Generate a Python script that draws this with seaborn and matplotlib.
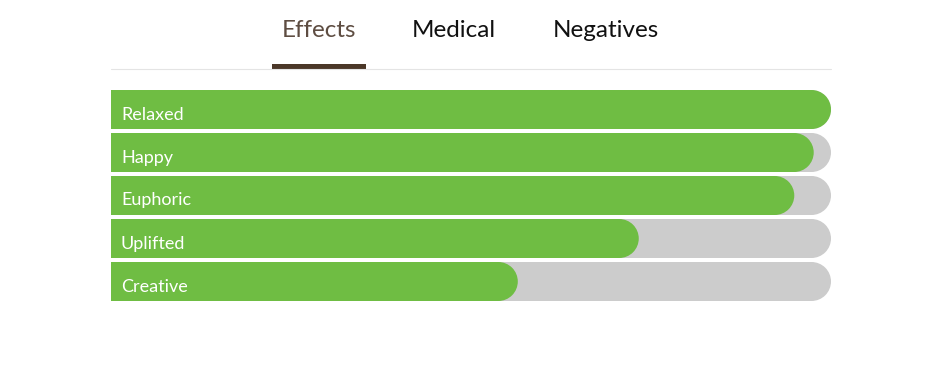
import matplotlib
matplotlib.use("Agg")
import matplotlib.pyplot as plt
import seaborn as sns
import pandas as pd
from matplotlib.path import Path
from matplotlib.patches import PathPatch, Rectangle
from matplotlib.lines import Line2D

# ---- data ----
effects = ["Relaxed", "Happy", "Euphoric", "Uplifted", "Creative"]
scores = [100, 97.6, 94.9, 73.3, 56.5]
track_max = [100, 100, 100, 100, 100]
tabs = ["Effects", "Medical", "Negatives"]
active_tab = "Effects"

sns.set_theme(style="white")
plt.rcParams['font.family'] = ['Lato', 'DejaVu Sans']

W, H = 941, 370
fig = plt.figure(figsize=(W / 100, H / 100), dpi=100)
ax = fig.add_axes([111 / W, 1 - 301 / H, 720 / W, 211 / H])

df = pd.DataFrame({"effect": effects, "score": scores, "max": track_max})
bw = 39 / 43
sns.barplot(data=df, x="max", y="effect", color="#cccccc", width=bw,
            saturation=1, ax=ax, orient="h")
sns.barplot(data=df, x="score", y="effect", color="#6fbd43", width=bw,
            saturation=1, ax=ax, orient="h")
ax.set_xlim(0, 100)
ax.set_ylim(len(effects) - 1 + bw / 2, -bw / 2)
ax.axis("off")


def pill_path(x0, x1, y0, y1):
    r = (y1 - y0) / 2
    xc = max(x1 - r, x0)
    yc = (y0 + y1) / 2
    arc = Path.arc(-90, 90)
    arc_v = arc.vertices * r + [xc, yc]
    verts = [(x0, y0), (xc, y0)] + [tuple(v) for v in arc_v] + [(x0, y1), (x0, y0)]
    codes = [Path.MOVETO, Path.LINETO, Path.LINETO] + list(arc.codes[1:]) + [Path.LINETO, Path.CLOSEPOLY]
    return verts, codes


inv = ax.transData.inverted()
for p in list(ax.patches):
    bb = p.get_bbox()
    (dx0, dy0), (dx1, dy1) = ax.transData.transform([(bb.x0, bb.y0), (bb.x1, bb.y1)])
    x0, x1 = min(dx0, dx1), max(dx0, dx1)
    y0, y1 = min(dy0, dy1), max(dy0, dy1)
    if x1 - x0 <= 0:
        p.remove()
        continue
    verts, codes = pill_path(x0, x1, y0, y1)
    dverts = inv.transform(verts)
    newp = PathPatch(Path(dverts, codes), facecolor=p.get_facecolor(),
                     edgecolor="none", lw=0, zorder=p.get_zorder())
    p.remove()
    ax.add_patch(newp)

for i, lbl in enumerate(effects):
    ax.annotate(lbl, xy=(0, i), xycoords="data", xytext=(10, -10),
                textcoords="offset pixels", color="white", fontsize=13,
                ha="left", va="baseline")

# ---- tabs ----
tab_x = [319, 454, 605.5]
for t, x in zip(tabs, tab_x):
    fig.text(x / W, 1 - 37 / H, t, ha="center", va="baseline", fontsize=17.5,
             color="#5e4d42" if t == active_tab else "#111111")

fig.add_artist(Line2D([111 / W, 831 / W], [1 - 69.0 / H] * 2, transform=fig.transFigure,
                      color="#e4e4e4", lw=0.8))
fig.add_artist(Rectangle((272 / W, 1 - 69 / H), 94 / W, 5 / H, transform=fig.transFigure,
                         facecolor="#4b3728", edgecolor="none"))

fig.savefig("out.png", dpi=100)
